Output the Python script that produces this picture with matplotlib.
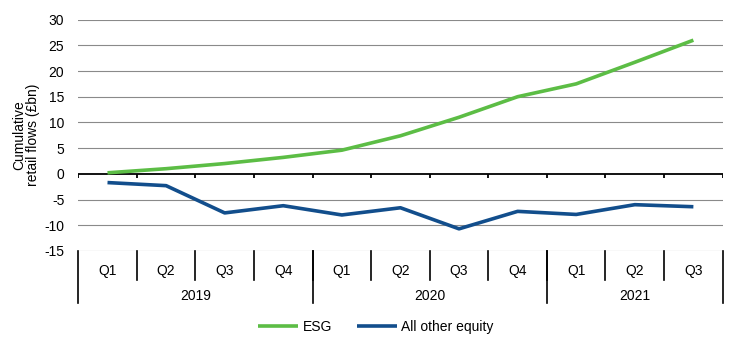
import numpy as np
import matplotlib
matplotlib.use("Agg")
import matplotlib.pyplot as plt
import matplotlib.transforms as mtransforms

plt.rcParams['font.family'] = ['Liberation Sans', 'DejaVu Sans']
plt.rcParams['axes.unicode_minus'] = False

quarters = ['Q1', 'Q2', 'Q3', 'Q4', 'Q1', 'Q2', 'Q3', 'Q4', 'Q1', 'Q2', 'Q3']
years = ['2019', '2020', '2021']
year_counts = [4, 4, 3]
esg = [0.2, 1.0, 2.0, 3.2, 4.6, 7.4, 11.0, 15.0, 17.5, 21.7, 26.0]
other_equity = [-1.7, -2.3, -7.6, -6.2, -8.0, -6.6, -10.7, -7.3, -7.9, -6.0, -6.4]

green = '#5cbd45'
blue = '#124e8c'
fs = 10

fig = plt.figure(figsize=(7.52, 3.5), dpi=100)
ax = fig.add_axes([0.104, 0.283, 0.857, 0.661])

x = np.arange(len(quarters))
ax.plot(x, esg, color=green, lw=2.6, label='ESG', solid_capstyle='butt')
ax.plot(x, other_equity, color=blue, lw=2.6, label='All other equity', solid_capstyle='butt')

ax.set_xlim(-0.5, len(quarters) - 0.5)
ax.set_ylim(-15, 30)
ax.set_yticks(range(-15, 31, 5))
for v in range(-15, 31, 5):
    if v != 0:
        ax.axhline(v, color='#8a8a8a', lw=0.8, zorder=0)
ax.axhline(0, color='black', lw=1.3, zorder=1)
# small ticks on the zero line between categories
ax.vlines(np.arange(-0.5, len(quarters)), 0, -0.8, color='black', lw=1.3)

for s in ax.spines.values():
    s.set_visible(False)
ax.tick_params(axis='y', length=0, pad=10, labelsize=fs)
ax.set_xticks([])

ax.set_ylabel('Cumulative\nretail flows (£bn)', fontsize=fs, labelpad=3, linespacing=0.95)

# category table below plot
trans = mtransforms.blended_transform_factory(ax.transData, ax.transAxes)
for i, q in enumerate(quarters):
    ax.text(i, -0.085, q, transform=trans, ha='center', va='center', fontsize=fs)
for b in np.arange(0.5, len(quarters) - 1):
    ax.plot([b, b], [0, -0.125], transform=trans, color='black', lw=1.2, clip_on=False)
edges = np.concatenate([[0], np.cumsum(year_counts)]) - 0.5
for e in edges:
    ax.plot([e, e], [0, -0.225], transform=trans, color='black', lw=1.2, clip_on=False)
for i, yname in enumerate(years):
    mid = (edges[i] + edges[i + 1]) / 2
    ax.text(mid, -0.195, yname, transform=trans, ha='center', va='center', fontsize=fs)

fig.legend(loc='center', bbox_to_anchor=(0.5, 0.066), ncol=2, frameon=False,
           fontsize=fs, handlelength=2.9, handletextpad=0.3, columnspacing=1.8)

fig.savefig('out.png', dpi=100)
